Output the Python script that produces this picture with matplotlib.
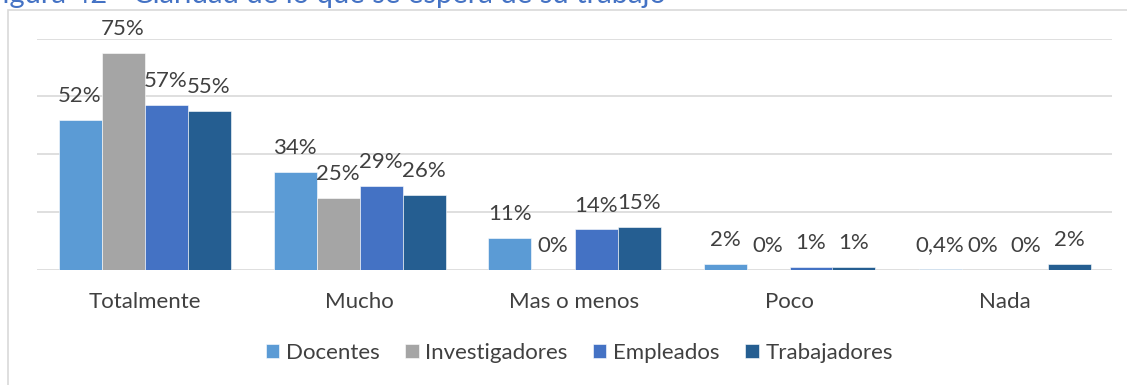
import matplotlib
matplotlib.use("Agg")
import matplotlib.pyplot as plt
import numpy as np
from matplotlib.patches import Rectangle

plt.rcParams["font.family"] = ["Lato", "DejaVu Sans"]

categories = ["Totalmente", "Mucho", "Mas o menos", "Poco", "Nada"]
docentes = [0.52, 0.34, 0.11, 0.02, 0.004]
investigadores = [0.75, 0.25, 0.0, 0.0, 0.0]
empleados = [0.57, 0.29, 0.14, 0.01, 0.0]
trabajadores = [0.55, 0.26, 0.15, 0.01, 0.02]

series_names = ["Docentes", "Investigadores", "Empleados", "Trabajadores"]
colors = ["#5B9BD5", "#A5A5A5", "#4472C4", "#255E91"]
text_color = "#404040"
grid_color = "#D9D9D9"


def pct_label(v):
    p = v * 100
    if abs(p - round(p)) < 1e-9:
        return f"{p:.0f}%"
    return f"{p:.1f}%".replace(".", ",")


fig = plt.figure(figsize=(11.27, 3.85), dpi=100)
ax = fig.add_axes([37 / 1127, 115 / 385, 1075 / 1127, 231.5 / 385])

x = np.arange(len(categories))
width = 0.2
offsets = [-0.3, -0.1, 0.1, 0.3]
all_series = [docentes, investigadores, empleados, trabajadores]

for vals, name, col, off in zip(all_series, series_names, colors, offsets):
    bars = ax.bar(x + off, vals, width, color=col, label=name,
                  edgecolor="white", linewidth=0.4, zorder=3)
    for b, v in zip(bars, vals):
        ax.annotate(pct_label(v), (b.get_x() + b.get_width() / 2, v),
                    xytext=(0, 10), textcoords="offset points",
                    ha="center", va="bottom", fontsize=16, color=text_color)

ax.set_xlim(-0.5, len(categories) - 0.5)
ax.set_ylim(0, 0.8)
ax.set_yticks([0, 0.2, 0.4, 0.6, 0.8])
ax.yaxis.grid(True, color=grid_color, linewidth=1.2, zorder=0)
ax.set_yticklabels([])
ax.tick_params(axis="y", length=0)
ax.set_xticks(x)
ax.set_xticklabels(categories, fontsize=16, color=text_color)
ax.tick_params(axis="x", length=0, pad=16)
for s in ax.spines.values():
    s.set_visible(False)

leg = fig.legend(loc="center", bbox_to_anchor=(0.514, 0.083), ncol=4,
                 frameon=False, fontsize=16, handlelength=0.6,
                 handleheight=0.6, handletextpad=0.3, columnspacing=1.15)
for t in leg.get_texts():
    t.set_color(text_color)

# outer chart border, partly running off the page
fig.patches.append(Rectangle((7.5 / 1127, -0.1), 1.2, 375 / 385 + 0.1,
                             transform=fig.transFigure, fill=False,
                             edgecolor=grid_color, linewidth=1.2))

fig.text(-14 / 1127, 382 / 385, "Figura 42 - Claridad de lo que se espera de su trabajo",
         fontsize=21, color="#4472C4", ha="left", va="baseline")

fig.savefig("out.png", dpi=100)
